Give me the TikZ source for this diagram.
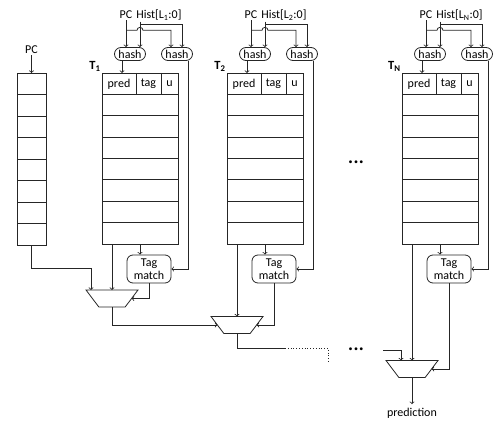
\documentclass[tikz,border=0pt]{standalone}
\usepackage{fontspec}
\setmainfont{Carlito}
\usetikzlibrary{calc,shapes.geometric,shapes.misc}

\tikzset{
  wlabel/.style={inner sep=1pt},
  tname/.style={font=\fontsize{12.5}{12.5}\selectfont\bfseries, inner sep=1pt, anchor=south east},
  hashbox/.style={draw, rounded rectangle, minimum width=33pt, minimum height=13pt, inner sep=1pt},
  tbl/.style={draw, minimum width=76pt, minimum height=171pt, inner sep=0pt, outer sep=0pt},
  tagbox/.style={draw, rounded corners=6pt, align=center, minimum width=44pt, minimum height=28pt, inner sep=1pt},
  mux/.style={draw, trapezium, shape border rotate=180, trapezium stretches=true,
    trapezium left angle=64, trapezium right angle=64,
    minimum width=52pt, minimum height=17pt, inner sep=2pt, outer sep=0pt},
  dots/.style={font=\fontsize{8}{8}\selectfont, inner sep=0pt}
}

\begin{document}
\begin{tikzpicture}[x=1pt,y=-1pt, line width=0.8pt, draw=black!85,
  font=\fontsize{12}{12.5}\selectfont]
\useasboundingbox (0,0) rectangle (502,425);

% base predictor
\node[wlabel] (pc0) at (31.5,50) {PC};
\node[tbl, minimum width=29pt, minimum height=172pt] (t0) at (31.5,159) {};
\foreach \k in {1,...,7} \draw ($(t0.north west)+(0,\k*21.5)$) -- ++(29,0);
\draw[->] (pc0.south) -- (t0.north);

% T1
\node[wlabel] (pc1) at (126,15) {PC};
\node[wlabel, anchor=west] (hist1) at (135,15) {Hist[L\textsubscript{1}:0]};
\node[hashbox] (h1a) at (130,54) {hash};
\node[hashbox] (h1b) at (177,54) {hash};
\node[tbl] (t1) at (140,158.5) {};
\node[tname] (n1) at (t1.north west) {T\textsubscript{1}};
\node (p1) at (119,84) {pred};
\node (g1) at (148.5,84) {tag};
\node (u1) at (169.5,84) {u};
\draw ($(t1.north west)+(34,0)$) -- ++(0,21.375);
\draw ($(t1.north west)+(59,0)$) -- ++(0,21.375);
\foreach \k in {1,...,7} \draw ($(t1.north west)+(0,\k*21.375)$) -- ++(76,0);
\node[tagbox] (tm1) at (149,269) {Tag\\match};
\node[mux] (m1) at (112,298.5) {};

% T2
\node[wlabel] (pc2) at (251,15) {PC};
\node[wlabel, anchor=west] (hist2) at (260,15) {Hist[L\textsubscript{2}:0]};
\node[hashbox] (h2a) at (255,54) {hash};
\node[hashbox] (h2b) at (302,54) {hash};
\node[tbl] (t2) at (265,158.5) {};
\node[tname] (n2) at (t2.north west) {T\textsubscript{2}};
\node (p2) at (244,84) {pred};
\node (g2) at (273.5,84) {tag};
\node (u2) at (294.5,84) {u};
\draw ($(t2.north west)+(34,0)$) -- ++(0,21.375);
\draw ($(t2.north west)+(59,0)$) -- ++(0,21.375);
\foreach \k in {1,...,7} \draw ($(t2.north west)+(0,\k*21.375)$) -- ++(76,0);
\node[tagbox] (tm2) at (274,269) {Tag\\match};
\node[mux] (m2) at (237,325) {};

% TN
\node[wlabel] (pc3) at (426,15) {PC};
\node[wlabel, anchor=west] (hist3) at (435,15) {Hist[L\textsubscript{N}:0]};
\node[hashbox] (h3a) at (430,54) {hash};
\node[hashbox] (h3b) at (477,54) {hash};
\node[tbl] (t3) at (440,158.5) {};
\node[tname] (n3) at (t3.north west) {T\textsubscript{N}};
\node (p3) at (419,84) {pred};
\node (g3) at (448.5,84) {tag};
\node (u3) at (469.5,84) {u};
\draw ($(t3.north west)+(34,0)$) -- ++(0,21.375);
\draw ($(t3.north west)+(59,0)$) -- ++(0,21.375);
\foreach \k in {1,...,7} \draw ($(t3.north west)+(0,\k*21.375)$) -- ++(76,0);
\node[tagbox] (tm3) at (449,269) {Tag\\match};
\node[mux] (m3) at (412,369) {};
\node (out) at (412,413) {prediction};

\node[dots] (dd1) at (356,163) {\textbullet\,\textbullet\,\textbullet};
\node[dots] (dd2) at (356,350) {\textbullet\,\textbullet\,\textbullet};

% hashing of PC and history
\coordinate (hw1) at ($(hist1.south west)+(5,0)$);
\coordinate (hw2) at ($(hist2.south west)+(5,0)$);
\coordinate (hw3) at ($(hist3.south west)+(5,0)$);
\draw[->] (pc1.south) -- (pc1.south |- h1a.north);
\draw[->] ($(pc1.south)+(0,10)$) -- ++(11,0) arc(180:360:3) -| ($(h1b.north)+(-6,0)$);
\draw[->] (hw1) -- (hw1 |- h1a.north);
\draw[->] ($(hw1)+(0,3)$) -| ($(h1b.north)+(5,0)$);
\draw[->] (pc2.south) -- (pc2.south |- h2a.north);
\draw[->] ($(pc2.south)+(0,10)$) -- ++(11,0) arc(180:360:3) -| ($(h2b.north)+(-6,0)$);
\draw[->] (hw2) -- (hw2 |- h2a.north);
\draw[->] ($(hw2)+(0,3)$) -| ($(h2b.north)+(5,0)$);
\draw[->] (pc3.south) -- (pc3.south |- h3a.north);
\draw[->] ($(pc3.south)+(0,10)$) -- ++(11,0) arc(180:360:3) -| ($(h3b.north)+(-6,0)$);
\draw[->] (hw3) -- (hw3 |- h3a.north);
\draw[->] ($(hw3)+(0,3)$) -| ($(h3b.north)+(5,0)$);

% index into tables, tag compare
\coordinate (a1) at ($(h1a.south)+(-8,0)$);
\coordinate (a2) at ($(h2a.south)+(-8,0)$);
\coordinate (a3) at ($(h3a.south)+(-8,0)$);
\draw[->] (a1) -- (a1 |- t1.north);
\draw[->] (a2) -- (a2 |- t2.north);
\draw[->] (a3) -- (a3 |- t3.north);
\coordinate (r1) at ($(h1b.south)+(11,0)$);
\coordinate (r2) at ($(h2b.south)+(11,0)$);
\coordinate (r3) at ($(h3b.south)+(11,0)$);
\draw[->] (r1) |- (tm1.east);
\draw[->] (r2) |- (tm2.east);
\draw[->] (r3) |- (tm3.east);
\draw[->] (t1.south) -- (t1.south |- tm1.north);
\draw[->] (t2.south) -- (t2.south |- tm2.north);
\draw[->] (t3.south) -- (t3.south |- tm3.north);

% muxes
\draw[->] (t0.south) -- ++(0,23) -| ($(m1.north)+(-21,0)$);
\draw[->] (m1.north |- t1.south) -- (m1.north);
\draw[->] (tm1.south) |- (m1);
\draw[->] (m1.south) |- (m2);
\draw[->] (m2.north |- t2.south) -- (m2.north);
\draw[->] (tm2.south) |- (m2);
\coordinate (e2) at (285,348);
\draw (m2.south) |- (e2);
\draw[dotted] (e2) -- ++(43,0) -- ++(0,14);
\coordinate (e3) at (383,350);
\draw[->] (e3) -| ($(m3.north)+(-11,0)$);
\draw[->] (m3.north |- t3.south) -- (m3.north);
\draw[->] (tm3.south) |- (m3);
\draw[->] (m3.south) -- (out.north);
\end{tikzpicture}
\end{document}
